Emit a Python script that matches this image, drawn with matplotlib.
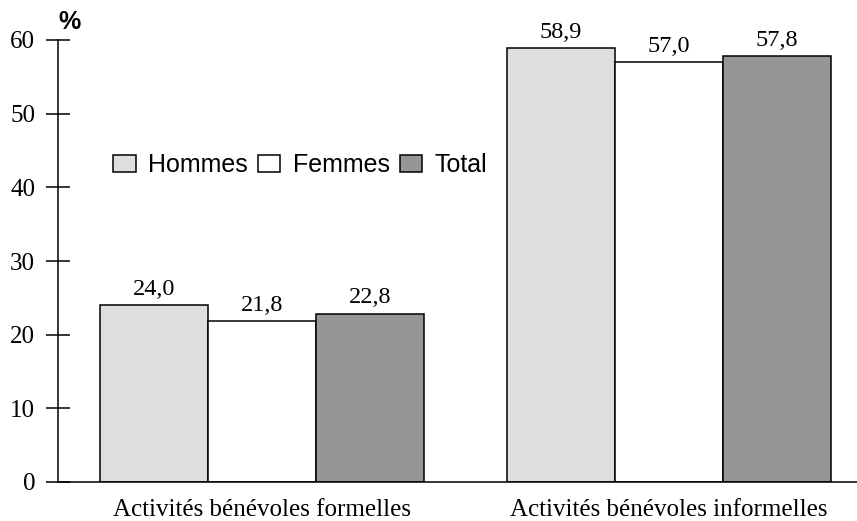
import matplotlib
matplotlib.use("Agg")
import matplotlib.pyplot as plt
import numpy as np

categories = ["Activités bénévoles formelles", "Activités bénévoles informelles"]
series = ["Hommes", "Femmes", "Total"]
hommes = [24.0, 58.9]
femmes = [21.8, 57.0]
total = [22.8, 57.8]
values = [hommes, femmes, total]
colors = ["#dedede", "#ffffff", "#969696"]
yticks = [0, 10, 20, 30, 40, 50, 60]

serif = "Liberation Serif"
sans = "Liberation Sans"

fig = plt.figure(figsize=(8.57, 5.21), dpi=100)
ax = fig.add_axes([58 / 857, 1 - 482 / 521, 1 - 58 / 857, (482 - 40) / 521])

x = np.arange(len(categories))
width = 0.265
for i, (name, vals, col) in enumerate(zip(series, values, colors)):
    pos = x + (i - 1) * width
    bars = ax.bar(pos, vals, width, color=col, edgecolor="black",
                  linewidth=1.1, label=name, zorder=2)
    for b, v in zip(bars, vals):
        ax.annotate(f"{v:.1f}".replace(".", ","),
                    (b.get_x() + b.get_width() / 2, v),
                    xytext=(0, 4), textcoords="offset points",
                    ha="center", va="bottom", fontsize=17.5, family=serif)

ax.set_xlim(-0.501, 1.462)
ax.set_ylim(0, 60)
ax.set_yticks(yticks)
ax.set_yticklabels([str(t) for t in yticks], fontsize=18, family=serif)
ax.tick_params(axis="y", direction="inout", length=17, width=1.1, pad=8)
ax.set_xticks(x)
ax.set_xticklabels(categories, fontsize=18, family=serif)
ax.tick_params(axis="x", length=0, pad=12)

for s in ["top", "right"]:
    ax.spines[s].set_visible(False)
ax.spines["left"].set_linewidth(1.1)
ax.spines["bottom"].set_linewidth(1.1)
ax.spines["bottom"].set_zorder(3)

fig.text(58 / 857, 1 - 22 / 521, "%", fontsize=18, family=sans,
         weight="bold", ha="left", va="center")

ax.legend(loc="center left", bbox_to_anchor=(113 / 857, 1 - 165 / 521),
          bbox_transform=fig.transFigure, ncol=3, frameon=False,
          prop={"family": sans, "size": 18}, handlelength=0.9,
          handleheight=0.65, handletextpad=0.5, columnspacing=0.4,
          borderpad=0, borderaxespad=0)

plt.savefig("out.png", dpi=100)
